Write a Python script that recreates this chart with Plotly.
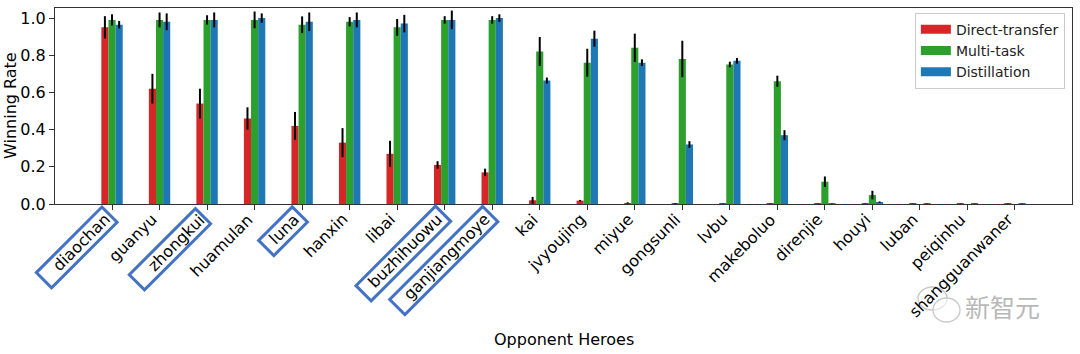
import math
import plotly.graph_objects as go

# ---------------- data ----------------
heroes = ["diaochan", "guanyu", "zhongkui", "huamulan", "luna", "hanxin", "libai",
          "buzhihuowu", "ganjiangmoye", "kai", "jvyoujing", "miyue", "gongsunli",
          "lvbu", "makeboluo", "direnjie", "houyi", "luban", "peiqinhu", "shangguanwaner"]

direct_transfer = [0.95, 0.62, 0.54, 0.46, 0.42, 0.33, 0.27, 0.21, 0.17, 0.02,
                   0.018, 0.005, 0.003, 0.002, 0.002, 0.002, 0.002, 0.002, 0.002, 0.002]
direct_transfer_err = [0.06, 0.08, 0.08, 0.06, 0.075, 0.078, 0.07, 0.02, 0.02, 0.018,
                       0.004, 0.004, 0.002, 0.001, 0.001, 0.001, 0.001, 0.001, 0.001, 0.001]

multi_task = [0.99, 0.99, 0.99, 0.99, 0.964, 0.98, 0.95, 0.99, 0.99, 0.82,
              0.76, 0.84, 0.78, 0.75, 0.66, 0.12, 0.048, 0.0, 0.0, 0.0]
multi_task_err = [0.03, 0.04, 0.025, 0.045, 0.045, 0.025, 0.045, 0.02, 0.02, 0.078,
                  0.075, 0.076, 0.098, 0.015, 0.03, 0.028, 0.023, 0.0, 0.0, 0.0]

distillation = [0.964, 0.98, 0.99, 1.0, 0.98, 0.99, 0.97, 0.99, 1.0, 0.664,
                0.889, 0.76, 0.32, 0.77, 0.37, 0.002, 0.01, 0.002, 0.002, 0.002]
distillation_err = [0.02, 0.045, 0.04, 0.025, 0.05, 0.04, 0.047, 0.05, 0.02, 0.016,
                    0.043, 0.018, 0.018, 0.015, 0.027, 0.001, 0.004, 0.001, 0.001, 0.001]

series_names = ["Direct-transfer", "Multi-task", "Distillation"]
y_ticks = [0.0, 0.2, 0.4, 0.6, 0.8, 1.0]
boxed_heroes = ["diaochan", "zhongkui", "luna", "buzhihuowu", "ganjiangmoye"]

# ---------------- style ----------------
colors = ["#d62728", "#2ca02c", "#1f77b4"]
FONT = "DejaVu Sans"
TICK_FS = 16
BAR_W = 0.15
offsets = [-0.225, -0.075, 0.075]
W, H = 1080, 354
ML, MR, MT, MB = 55, 8, 8, 150
X_RANGE = [-1.2, 20.2]

# DejaVu Sans advance widths (em) used to centre the rotated labels like matplotlib
ADV = dict(a=.613, b=.635, c=.550, d=.635, e=.615, f=.352, g=.635, h=.634, i=.278,
           j=.278, k=.579, l=.278, m=.974, n=.634, o=.612, p=.635, q=.635, r=.411,
           s=.521, t=.392, u=.634, v=.592, w=.818, x=.592, y=.592, z=.525)
S_END, T_MID = 12.5, 5.5   # label end offset along text dir, centre offset across it (px)

# box extents along the rotated label (pixels): start/end along text, perpendicular range
box_extent = {"diaochan": (9.3, 102), "zhongkui": (11.5, 105), "luna": (9, 56.5),
              "buzhihuowu": (8, 120.5), "ganjiangmoye": (8.5, 140)}
T0, T1 = -5.0, 16.5
a = 1 / math.sqrt(2)

fig = go.Figure()
vals = [direct_transfer, multi_task, distillation]
errs = [direct_transfer_err, multi_task_err, distillation_err]
for name, v, e, c, off in zip(series_names, vals, errs, colors, offsets):
    fig.add_trace(go.Bar(
        x=heroes, y=v, name=name, width=BAR_W, offset=off,
        marker=dict(color=c, line=dict(width=0)),
        error_y=dict(type="data", array=e, visible=True, color="black",
                     thickness=2, width=0),
        showlegend=False,
    ))
# legend entries (wide patches like matplotlib)
for name, c in zip(series_names, colors):
    fig.add_trace(go.Scatter(x=[None], y=[None], mode="lines", name=name,
                             line=dict(color=c, width=9), showlegend=True))

# rotated boxes around selected tick labels (paper-anchored so they are not clipped)
shapes = []
for hname in boxed_heroes:
    s0, s1 = box_extent[hname]
    pts = [(s0, T0), (s0, T1), (s1, T1), (s1, T0)]
    pix = [(a * (t - s), -a * (s + t)) for s, t in pts]
    path = "M" + "L".join(f"{px:.2f},{py:.2f}" for px, py in pix) + "Z"
    xa = (heroes.index(hname) - X_RANGE[0]) / (X_RANGE[1] - X_RANGE[0])
    shapes.append(dict(type="path", xref="paper", yref="paper", xsizemode="pixel",
                       ysizemode="pixel", xanchor=xa, yanchor=0,
                       path=path, line=dict(color="#4472c4", width=3),
                       layer="above"))

# watermark icon (two speech bubbles)
def px2paper(px, py):
    return (px - ML) / (W - ML - MR), (H - MB - py) / (H - MT - MB)

for (l, t, r, b) in [(918, 287, 947, 310), (933, 298, 960, 322)]:
    x0, y0 = px2paper(l, b)
    x1, y1 = px2paper(r, t)
    shapes.append(dict(type="circle", xref="paper", yref="paper", x0=x0, y0=y0,
                       x1=x1, y1=y1, line=dict(color="#c8c8c8", width=1.3),
                       fillcolor="rgba(255,255,255,0.55)", layer="above"))

annotations = []
# x tick labels, rotated 45 degrees, right end at the tick
for hname in heroes:
    L = sum(ADV.get(ch, 0.6) for ch in hname) * TICK_FS
    s_c = S_END + L / 2
    dx = a * (T_MID - s_c)
    dy = a * (s_c + T_MID)
    annotations.append(dict(text=hname, xref="x", yref="paper", x=hname, y=0,
                            xanchor="center", yanchor="middle", xshift=dx, yshift=-dy,
                            textangle=-45, showarrow=False, borderpad=0,
                            font=dict(family=FONT, size=TICK_FS, color="black")))

annotations += [
    dict(text="Opponent Heroes", xref="paper", yref="paper", x=0.5, y=0,
         xanchor="center", yanchor="middle", yshift=-135.5, showarrow=False,
         font=dict(family=FONT, size=16, color="black")),
    dict(text="Winning Rate", xref="paper", yref="paper", x=0, y=0.5,
         xanchor="center", yanchor="middle", xshift=-45, textangle=-90,
         showarrow=False, font=dict(family=FONT, size=16, color="black")),
    dict(text="新智元", xref="paper", yref="paper", x=1, y=0,
         xanchor="right", yanchor="middle", xshift=-30, yshift=-102,
         showarrow=False, font=dict(family="Noto Sans CJK SC", size=25, color="#b8b8b8")),
]

fig.update_layout(
    width=W, height=H,
    margin=dict(l=ML, r=MR, t=MT, b=MB, autoexpand=False),
    paper_bgcolor="white", plot_bgcolor="white",
    barmode="overlay",
    font=dict(family=FONT, size=16, color="black"),
    shapes=shapes, annotations=annotations,
    legend=dict(x=0.993, y=0.976, xanchor="right", yanchor="top",
                bgcolor="rgba(255,255,255,0.85)", bordercolor="#cccccc", borderwidth=1,
                font=dict(family=FONT, size=14, color="#222"), itemwidth=30,
                tracegroupgap=0),
    xaxis=dict(type="category", range=X_RANGE, showticklabels=False,
               tickmode="array", tickvals=heroes,
               ticks="outside", ticklen=5, tickwidth=1, tickcolor="#333",
               showline=True, linecolor="#333", linewidth=1, mirror=True,
               showgrid=False, zeroline=False),
    yaxis=dict(range=[0, 1.054], tickmode="array", tickvals=y_ticks,
               ticktext=[f"{t:.1f}" for t in y_ticks],
               ticks="outside", ticklen=5, tickwidth=1, tickcolor="#333",
               showline=True, linecolor="#333", linewidth=1, mirror=True,
               showgrid=False, zeroline=False,
               tickfont=dict(family=FONT, size=16, color="black")),
)

fig.write_html("out.html")
